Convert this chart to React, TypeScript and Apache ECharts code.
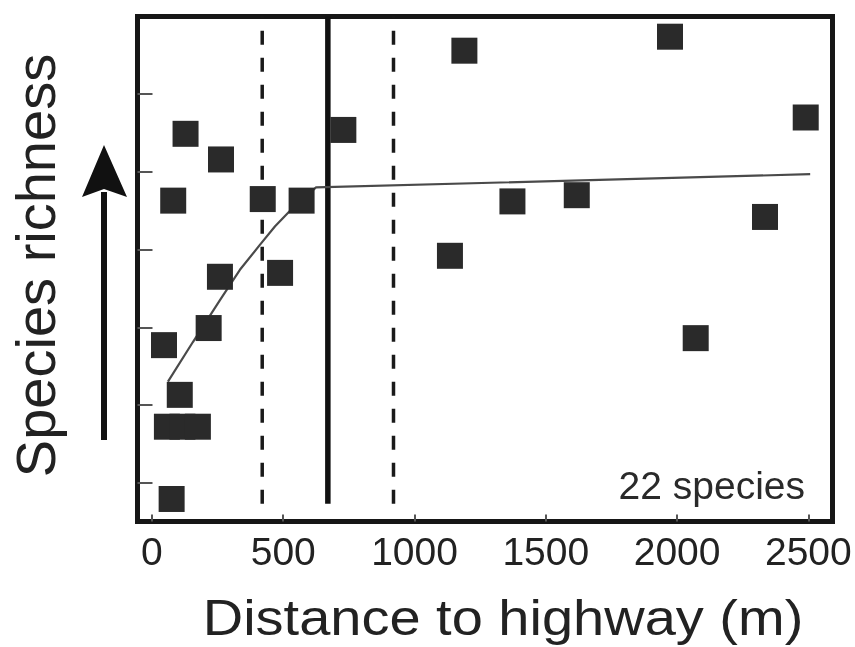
import React, { useEffect, useRef } from "react";
import * as echarts from "echarts";

// Observed sites: distance to highway (m) and relative species richness (arbitrary units)
const distance = [75, 57, 116, 175, 106, 46, 216, 259, 488, 81, 422, 570, 128, 263, 729, 1190, 1973, 2490, 1373, 1618, 2335, 1135, 2071];
const richness = [0.79, 1.72, 1.72, 1.72, 2.13, 2.77, 2.99, 3.65, 3.7, 4.63, 4.65, 4.63, 5.49, 5.16, 5.54, 6.56, 6.74, 5.7, 4.62, 4.7, 4.42, 3.92, 2.86];

// Fitted curve
const fitX = [61, 156, 259, 335, 411, 469, 526, 625, 2507];
const fitY = [2.3, 2.81, 3.35, 3.74, 4.06, 4.3, 4.5, 4.8, 4.97];

// Threshold (solid) and its confidence limits (dashed)
const threshold = 670;
const confidence = [420, 920];

const xTicks = [0, 500, 1000, 1500, 2000, 2500];
const yTicks = [1, 2, 3, 4, 5, 6];

const FONT = "'Liberation Sans', Arial, Helvetica, sans-serif";

export default function App() {
  const ref = useRef<HTMLDivElement>(null);
  useEffect(() => {
    if (!ref.current) return;
    const chart = echarts.init(ref.current, undefined, { renderer: "svg" });
    const vLine = (x: number, dashed: boolean) => ({
      type: "line",
      data: [
        [x, 0.73],
        [x, 7],
      ],
      symbol: "none",
      silent: true,
      z: 2,
      lineStyle: dashed
        ? { color: "#1a1a1a", width: 3.5, type: [14, 13] }
        : { color: "#111", width: 5.5, type: "solid" },
    });
    chart.setOption({
      animation: false,
      grid: {
        left: 137.5,
        right: 22.5,
        top: 16.5,
        bottom: 125.5,
        show: true,
        borderColor: "#161616",
        borderWidth: 5,
      },
      xAxis: {
        type: "value",
        min: -55,
        max: 2592,
        axisLine: { show: false, onZero: false },
        splitLine: { show: false },
        axisTick: {
          show: true,
          inside: true,
          length: 7,
          customValues: xTicks,
          lineStyle: { color: "#555", width: 2 },
        },
        axisLabel: {
          customValues: xTicks,
          formatter: (v: number) => String(v),
          fontSize: 39,
          color: "#222",
          fontFamily: FONT,
          margin: 10,
        },
      },
      yAxis: {
        type: "value",
        min: 0.5,
        max: 7,
        axisLine: { show: false, onZero: false },
        splitLine: { show: false },
        axisTick: {
          show: true,
          inside: true,
          length: 15,
          customValues: yTicks,
          lineStyle: { color: "#555", width: 2 },
        },
        axisLabel: { show: false },
      },
      series: [
        vLine(confidence[0], true),
        vLine(confidence[1], true),
        vLine(threshold, false),
        {
          type: "line",
          data: fitX.map((x, i) => [x, fitY[i]]),
          symbol: "none",
          silent: true,
          z: 3,
          lineStyle: { color: "#4a4a4a", width: 2.2 },
        },
        {
          type: "scatter",
          data: distance.map((x, i) => [x, richness[i]]),
          symbol: "rect",
          symbolSize: 26,
          z: 4,
          itemStyle: { color: "#2a2a2a", opacity: 1 },
        },
      ],
      graphic: [
        {
          type: "text",
          x: 503,
          y: 618,
          scaleX: 1.12,
          style: {
            text: "Distance to highway (m)",
            fontSize: 50,
            lineHeight: 50,
            fontFamily: FONT,
            fill: "#222",
            align: "center",
            verticalAlign: "middle",
          },
        },
        {
          type: "text",
          x: 35,
          y: 265.5,
          rotation: Math.PI / 2,
          style: {
            text: "Species richness",
            fontSize: 56,
            fontFamily: FONT,
            fill: "#222",
            align: "center",
            verticalAlign: "middle",
          },
        },
        {
          type: "text",
          x: 805,
          y: 485,
          style: {
            text: "22 species",
            fontSize: 39,
            fontFamily: FONT,
            fill: "#2a2a2a",
            align: "right",
            verticalAlign: "middle",
          },
        },
        {
          type: "line",
          shape: { x1: 104, y1: 440, x2: 104, y2: 192 },
          style: { stroke: "#111", lineWidth: 6 },
        },
        {
          type: "polygon",
          shape: {
            points: [
              [104, 145],
              [127, 197],
              [104, 189],
              [82, 197],
            ],
          },
          style: { fill: "#111" },
        },
      ],
    });
    return () => chart.dispose();
  }, []);
  return (
    <div
      ref={ref}
      style={{ position: "fixed", left: 0, top: 0, width: 855, height: 647 }}
    />
  );
}
